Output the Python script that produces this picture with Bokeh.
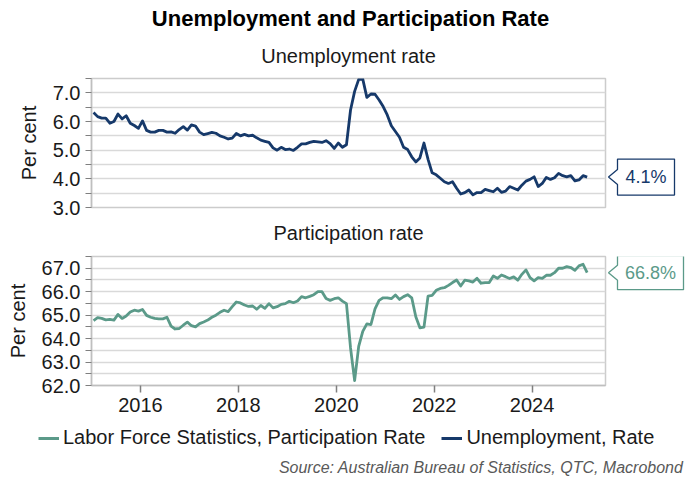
import pandas as pd
from bokeh.plotting import figure
from bokeh.layouts import column, row
from bokeh.models import (Range1d, FixedTicker, PrintfTickFormatter, Legend,
                          LegendItem, Label)
from bokeh.core.properties import value
from bokeh.embed import file_html
from bokeh.resources import INLINE

# ---------------- data (monthly, Jan 2015 - Feb 2025) ----------------
months = pd.date_range("2015-01-01", periods=122, freq="MS")

unemployment = [
    6.31, 6.17, 6.12, 6.12, 5.94, 6.00, 6.26, 6.09, 6.20, 5.94, 5.86, 5.76,
    6.02, 5.69, 5.63, 5.63, 5.69, 5.69, 5.63, 5.64, 5.59, 5.72, 5.82, 5.70,
    5.88, 5.84, 5.63, 5.54, 5.58, 5.62, 5.59, 5.50, 5.45, 5.39, 5.42, 5.58,
    5.50, 5.55, 5.50, 5.52, 5.43, 5.35, 5.31, 5.27, 5.08, 5.00, 5.10, 5.02,
    5.04, 4.99, 5.10, 5.22, 5.22, 5.27, 5.31, 5.29, 5.27, 5.33, 5.23, 5.06,
    5.25, 5.10, 5.19, 6.40, 7.05, 7.47, 7.48, 6.84, 6.96, 6.95, 6.75, 6.52,
    6.23, 5.85, 5.65, 5.45, 5.10, 5.02, 4.77, 4.59, 4.73, 5.25, 4.68, 4.21,
    4.14, 4.02, 3.90, 3.84, 3.90, 3.67, 3.47, 3.52, 3.61, 3.44, 3.52, 3.52,
    3.63, 3.59, 3.55, 3.67, 3.53, 3.57, 3.73, 3.67, 3.61, 3.78, 3.92, 3.98,
    4.07, 3.73, 3.84, 4.05, 3.98, 4.04, 4.19, 4.11, 4.07, 4.11, 3.93, 3.96,
    4.11, 4.06,
]

participation = [
    64.77, 64.89, 64.86, 64.80, 64.82, 64.79, 65.03, 64.86, 64.96, 65.13, 65.21, 65.17,
    65.24, 64.99, 64.91, 64.86, 64.84, 64.84, 64.91, 64.53, 64.41, 64.43, 64.57, 64.70,
    64.55, 64.50, 64.64, 64.71, 64.79, 64.91, 65.00, 65.12, 65.21, 65.15, 65.36, 65.56,
    65.52, 65.43, 65.37, 65.39, 65.25, 65.41, 65.29, 65.49, 65.31, 65.36, 65.46, 65.49,
    65.59, 65.53, 65.60, 65.79, 65.74, 65.80, 65.87, 66.00, 66.00, 65.71, 65.63, 65.70,
    65.74, 65.60, 65.49, 63.60, 62.21, 63.67, 64.31, 64.63, 64.60, 65.27, 65.63, 65.74,
    65.74, 65.70, 65.86, 65.67, 65.79, 65.87, 65.74, 64.93, 64.46, 64.49, 65.81, 65.84,
    66.06, 66.14, 66.17, 66.27, 66.39, 66.50, 66.24, 66.49, 66.46, 66.41, 66.57, 66.36,
    66.39, 66.39, 66.67, 66.57, 66.71, 66.64, 66.56, 66.63, 66.49, 66.74, 66.93, 66.60,
    66.46, 66.60, 66.57, 66.70, 66.70, 66.81, 67.00, 67.00, 67.07, 67.03, 66.91, 67.10,
    67.17, 66.81,
]

year_ticks = [2016, 2018, 2020, 2022, 2024]
year_labels = ["2016", "2018", "2020", "2022", "2024"]

u_major = [3.0, 4.0, 5.0, 6.0, 7.0]
u_minor = [3.5, 4.5, 5.5, 6.5, 7.5]
p_major = [62.0, 63.0, 64.0, 65.0, 66.0, 67.0]
p_minor = [62.5, 63.5, 64.5, 65.5, 66.5, 67.5]

TITLE = "Unemployment and Participation Rate"
SUB1 = "Unemployment rate"
SUB2 = "Participation rate"
LEG_P = "Labor Force Statistics, Participation Rate"
LEG_U = "Unemployment, Rate"
SOURCE = "Source: Australian Bureau of Statistics, QTC, Macrobond"

# ---------------- styling ----------------
FONT = "Liberation Sans"
NAVY = "#16396a"
GREEN = "#5b9a89"
GRID = "#d9d9d9"
AXIS = "#bfbfbf"
TICK = "#7f7f7f"
TXT = "#1a1a1a"

x = [d.year + (d.month - 1 + 0.5) / 12 for d in months]
X_RANGE = (2015.0, 2025.5)

FRAME_H = 129
P1_H, P1_TOP, P1_BOT = 152, 8, 15
P2_H, P2_TOP, P2_BOT = 181, 12, 40
PANEL_CX = 348


def strip(height):
    """Full-width text strip whose data space equals its pixel space (y from top)."""
    s = figure(width=700, height=height, output_backend="svg", toolbar_location=None,
               x_range=Range1d(0, 700), y_range=Range1d(height, 0),
               x_axis_location=None, y_axis_location=None,
               min_border_left=0, min_border_right=0, min_border_top=0,
               min_border_bottom=0)
    s.grid.visible = False
    s.outline_line_color = None
    s.background_fill_color = "white"
    s.border_fill_color = "white"
    return s


def style_panel(p, major, minor, ylabel_standoff):
    p.ygrid.ticker = FixedTicker(ticks=sorted(major + minor))
    p.ygrid.grid_line_color = GRID
    p.ygrid.grid_line_width = 1.5
    p.xgrid.visible = False
    p.outline_line_color = "#cccccc"
    p.outline_line_width = 1.5
    p.background_fill_color = "white"
    p.border_fill_color = "white"
    ax = p.yaxis[0]
    ax.ticker = FixedTicker(ticks=major, minor_ticks=minor)
    ax.formatter = PrintfTickFormatter(format="%.1f")
    ax.axis_line_color = AXIS
    ax.axis_line_width = 1.5
    ax.major_tick_line_color = TICK
    ax.minor_tick_line_color = TICK
    ax.major_tick_out = 6
    ax.major_tick_in = 0
    ax.minor_tick_out = 6
    ax.minor_tick_in = 0
    ax.major_label_text_font = FONT
    ax.major_label_text_font_size = "20px"
    ax.major_label_text_color = TXT
    ax.major_label_standoff = 5
    ax.axis_label = "Per cent"
    ax.axis_label_text_font = FONT
    ax.axis_label_text_font_size = "20px"
    ax.axis_label_text_font_style = "normal"
    ax.axis_label_text_color = TXT
    ax.axis_label_standoff = ylabel_standoff


# ---------------- header: title + first subtitle ----------------
p0 = strip(70)
p0.add_layout(Label(x=350, y=18, text=TITLE, text_align="center", text_baseline="middle",
                    text_font=FONT, text_font_size="22px", text_font_style="bold",
                    text_color="#000000"))
p0.add_layout(Label(x=PANEL_CX, y=55, text=SUB1, text_align="center",
                    text_baseline="middle", text_font=FONT, text_font_size="20px",
                    text_color=TXT))

# ---------------- top panel: unemployment ----------------
p1 = figure(width=607, height=P1_H, output_backend="svg", toolbar_location=None,
            x_range=Range1d(*X_RANGE), y_range=Range1d(3.0, 7.5),
            x_axis_location=None, min_border_left=91, min_border_right=2,
            min_border_top=P1_TOP, min_border_bottom=P1_BOT)
style_panel(p1, u_major, u_minor, 10)
p1.line(x, unemployment, line_color=NAVY, line_width=2.8, line_join="round")

# ---------------- middle strip: second subtitle ----------------
pm = strip(22)
pm.add_layout(Label(x=PANEL_CX, y=10, text=SUB2, text_align="center",
                    text_baseline="middle", text_font=FONT, text_font_size="20px",
                    text_color=TXT))

# ---------------- bottom panel: participation ----------------
p2 = figure(width=607, height=P2_H, output_backend="svg", toolbar_location=None,
            x_range=p1.x_range, y_range=Range1d(62.0, 67.5),
            min_border_left=91, min_border_right=2, min_border_top=P2_TOP,
            min_border_bottom=P2_BOT)
style_panel(p2, p_major, p_minor, 10)
xa = p2.xaxis[0]
xa.ticker = FixedTicker(ticks=year_ticks, minor_ticks=[])
xa.major_label_overrides = {t: l for t, l in zip(year_ticks, year_labels)}
xa.axis_line_color = AXIS
xa.axis_line_width = 1.5
xa.major_tick_line_color = TICK
xa.major_tick_line_width = 1.5
xa.major_tick_out = 7
xa.major_tick_in = 0
xa.minor_tick_out = 0
xa.minor_tick_in = 0
xa.major_label_text_font = FONT
xa.major_label_text_font_size = "20px"
xa.major_label_text_color = TXT
xa.major_label_standoff = 5
p2.line(x, participation, line_color=GREEN, line_width=2.8, line_join="round")


# ---------------- callouts (right strip, same vertical frame as panel) ----------------
def callout(height, top, bottom, yr, last, color, box_w, half_h):
    ppu = FRAME_H / (yr.end - yr.start)
    c = figure(width=93, height=height, output_backend="svg", toolbar_location=None,
               x_range=Range1d(607, 700), y_range=yr,
               x_axis_location=None, y_axis_location=None,
               min_border_left=0, min_border_right=0, min_border_top=top,
               min_border_bottom=bottom)
    c.grid.visible = False
    c.outline_line_color = None
    c.background_fill_color = "white"
    c.border_fill_color = "white"
    tip, left = 608, 617
    right = left + box_w
    hh, ph = half_h / ppu, 7.5 / ppu
    xs = [tip, left, left, right, right, left, left]
    ys = [last, last + ph, last + hh, last + hh, last - hh, last - hh, last - ph]
    c.patch(xs, ys, fill_color="white", line_color=color, line_width=1.3)
    c.text(x=[(left + right) / 2], y=[last], text=[f"{last:.1f}%"], text_align="center",
           text_baseline="middle", text_font=value(FONT), text_font_size="18px",
           text_color=color)
    return c


c1 = callout(P1_H, P1_TOP, P1_BOT, p1.y_range, unemployment[-1], NAVY, 57, 18)
c2 = callout(P2_H, P2_TOP, P2_BOT, p2.y_range, participation[-1], GREEN, 66, 17)

# ---------------- legend + source strip ----------------
p3 = figure(width=700, height=57, output_backend="svg", toolbar_location=None,
            x_range=Range1d(0, 700), y_range=Range1d(0, 57),
            x_axis_location=None, y_axis_location=None,
            min_border_left=0, min_border_right=0, min_border_top=0, min_border_bottom=0)
p3.grid.visible = False
p3.outline_line_color = None
p3.background_fill_color = "white"
p3.border_fill_color = "white"
nan = float("nan")
rg = p3.line(x=[nan], y=[nan], line_color=GREEN, line_width=3)
rb = p3.line(x=[nan], y=[nan], line_color=NAVY, line_width=3)
leg = Legend(items=[LegendItem(label=LEG_P, renderers=[rg]),
                    LegendItem(label=LEG_U, renderers=[rb])],
             orientation="horizontal", location=(38, 33), border_line_color=None,
             background_fill_alpha=0, padding=0, margin=0, spacing=16, label_standoff=4,
             glyph_width=21, glyph_height=20, label_text_font=FONT,
             label_text_font_size="20px", label_text_color=TXT)
p3.add_layout(leg)
p3.add_layout(Label(x=683, y=15, text=SOURCE, text_align="right", text_baseline="middle",
                    text_font=FONT, text_font_size="16px", text_font_style="italic",
                    text_color="#595959"))

layout = column(p0, row(p1, c1), pm, row(p2, c2), p3)
open("out.html", "w").write(file_html(layout, INLINE))
